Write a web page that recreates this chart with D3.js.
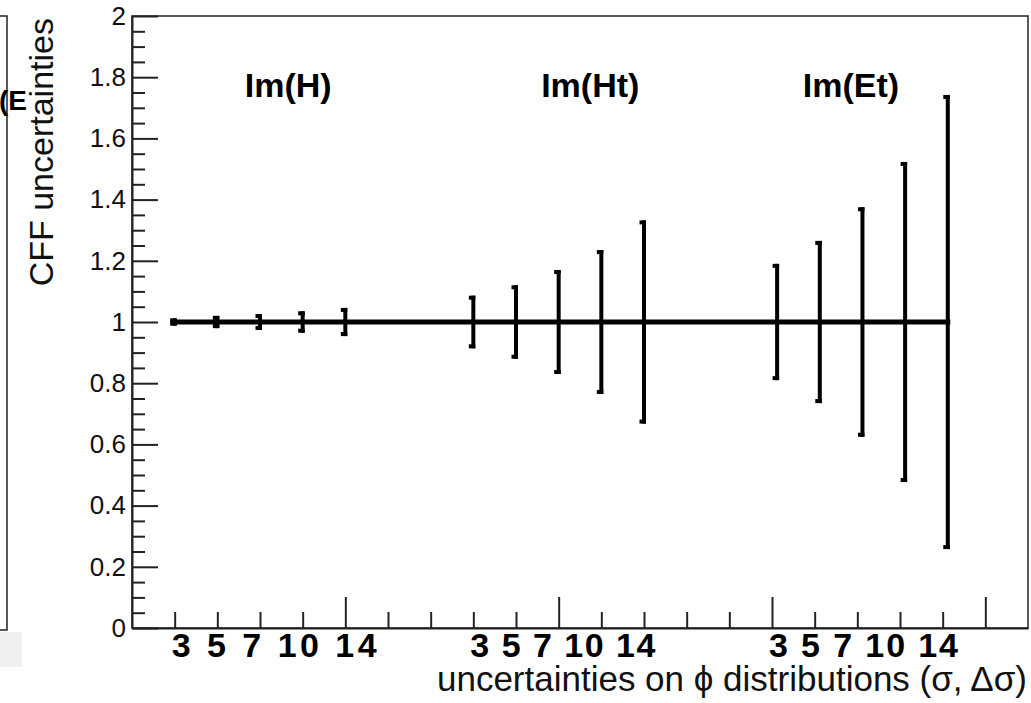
<!DOCTYPE html>
<html>
<head>
<meta charset="utf-8">
<script src="https://cdn.jsdelivr.net/npm/d3@7"></script>
<style>
  body { margin: 0; background: #fff; }
  text { font-family: "Liberation Sans", Arial, Helvetica, sans-serif; }
</style>
</head>
<body>
<div class="svg-container"></div>
<script>
var width = 1031,
  height = 703;

// ---- data ----
var groups = ["Im(H)", "Im(Ht)", "Im(Et)"];
var binLabels = ["3", "5", "7", "10", "14"];
var groupStart = [1, 8, 15.12];          // x of first bin of each group (axis units)
var errH  = [0.012, 0.020, 0.026, 0.035, 0.046];
var errHt = [0.086, 0.120, 0.170, 0.235, 0.332];
var errEt = [0.190, 0.265, 0.375, 0.523, 0.742];
var central = 1;
var groupLabelX = [3.66, 10.74, 16.85];
var groupLabelY = 1.735;
var yMajor = [0, 0.2, 0.4, 0.6, 0.8, 1, 1.2, 1.4, 1.6, 1.8, 2];

var errs = [errH, errHt, errEt];
var tickLabelWidth = [205, 185, 189];

var svg = d3.select(".svg-container").append("svg")
  .attr("width", width)
  .attr("height", height);

var x = d3.scaleLinear().domain([0, 21]).range([132, 1028]);
var y = d3.scaleLinear().domain([0, 2]).range([628, 16]);

// remnants of the neighbouring pad on the left
svg.append("path")
  .attr("d", "M0,16H7V630H0")
  .attr("fill", "none")
  .attr("stroke", "#222")
  .attr("stroke-width", 1.5);
svg.append("rect")
  .attr("x", 0).attr("y", 632).attr("width", 22).attr("height", 35)
  .attr("fill", "#f0f0f0");
svg.append("text")
  .attr("x", -1).attr("y", 110)
  .style("font-size", "28px").attr("font-weight", "bold")
  .text("(E");

// frame
svg.append("rect")
  .attr("x", x(0)).attr("y", y(2))
  .attr("width", x(21) - x(0)).attr("height", y(0) - y(2))
  .attr("fill", "none")
  .attr("stroke", "#222")
  .attr("stroke-width", 1.5);

// y axis
var yMinor = d3.range(0, 2.001, 0.05).filter(function(v) {
  return Math.abs(v * 5 - Math.round(v * 5)) > 1e-6;
});

svg.append("g")
  .attr("transform", "translate(" + x(0) + ",0)")
  .call(d3.axisLeft(y).tickValues(yMinor).tickSize(-13).tickSizeOuter(0).tickFormat(""))
  .call(function(g) { g.select(".domain").remove(); });

var yAxis = svg.append("g")
  .attr("transform", "translate(" + x(0) + ",0)")
  .call(d3.axisLeft(y).tickValues(yMajor).tickSize(-26).tickSizeOuter(0).tickPadding(6)
    .tickFormat(function(d) { return d3.format("~g")(d); }));
yAxis.attr("font-size", null).attr("font-family", null);
yAxis.selectAll("text")
  .style("font-size", "26px")
  .attr("fill", "#111");

// x axis
var xMinor = d3.range(1, 21).filter(function(k) { return k % 5 !== 0; });
svg.append("g")
  .attr("transform", "translate(0," + y(0) + ")")
  .call(d3.axisBottom(x).tickValues(xMinor).tickSize(-16).tickSizeOuter(0).tickFormat(""))
  .call(function(g) { g.select(".domain").remove(); });
svg.append("g")
  .attr("transform", "translate(0," + y(0) + ")")
  .call(d3.axisBottom(x).tickValues([5, 10, 15, 20]).tickSize(-31).tickSizeOuter(0).tickFormat(""));

svg.selectAll(".tick line, .domain")
  .attr("stroke", "#222")
  .attr("stroke-width", 2);

// bin labels below the axis, one string per group
svg.selectAll(".binlab")
  .data(groups)
  .enter()
  .append("text")
  .attr("class", "binlab")
  .attr("x", function(d, i) { return x(Math.round(groupStart[i])) - 3; })
  .attr("y", 657)
  .style("font-size", "34px")
  .attr("font-weight", "bold")
  .attr("textLength", function(d, i) { return tickLabelWidth[i]; })
  .attr("lengthAdjust", "spacing")
  .text(binLabels.join(" "));

// central line
var last = groupStart[2] + binLabels.length - 1;
svg.append("line")
  .attr("x1", x(groupStart[0])).attr("x2", x(last))
  .attr("y1", y(central)).attr("y2", y(central))
  .attr("stroke", "#000")
  .attr("stroke-width", 5)
  .attr("stroke-linecap", "square");

// error bars
var points = [];
groups.forEach(function(g, gi) {
  errs[gi].forEach(function(e, i) {
    points.push({ x: groupStart[gi] + i, lo: central - e, hi: central + e });
  });
});

var bars = svg.selectAll(".bar")
  .data(points)
  .enter()
  .append("g")
  .attr("class", "bar");

bars.append("rect")
  .attr("x", function(d) { return x(d.x) - 2; })
  .attr("y", function(d) { return y(d.hi); })
  .attr("width", 4)
  .attr("height", function(d) { return y(d.lo) - y(d.hi); })
  .attr("fill", "#000");
bars.append("rect")
  .attr("x", function(d) { return x(d.x) - 4.5; })
  .attr("y", function(d) { return y(d.hi); })
  .attr("width", 6.5).attr("height", 4)
  .attr("fill", "#000");
bars.append("rect")
  .attr("x", function(d) { return x(d.x) - 4.5; })
  .attr("y", function(d) { return y(d.lo) - 4; })
  .attr("width", 6.5).attr("height", 4)
  .attr("fill", "#000");

// group labels
svg.selectAll(".glab")
  .data(groups)
  .enter()
  .append("text")
  .attr("class", "glab")
  .attr("x", function(d, i) { return x(groupLabelX[i]); })
  .attr("y", y(groupLabelY))
  .attr("text-anchor", "middle")
  .style("font-size", "34px")
  .attr("font-weight", "bold")
  .text(function(d) { return d; });

// axis titles
svg.append("text")
  .attr("transform", "translate(53,18) rotate(-90)")
  .attr("text-anchor", "end")
  .style("font-size", "34px")
  .attr("fill", "#111")
  .text("CFF uncertainties");

svg.append("text")
  .attr("x", 1027).attr("y", 691)
  .attr("text-anchor", "end")
  .style("font-size", "35px")
  .attr("fill", "#111")
  .text("uncertainties on \u03d5 distributions (\u03c3, \u0394\u03c3)");
</script>
</body>
</html>
